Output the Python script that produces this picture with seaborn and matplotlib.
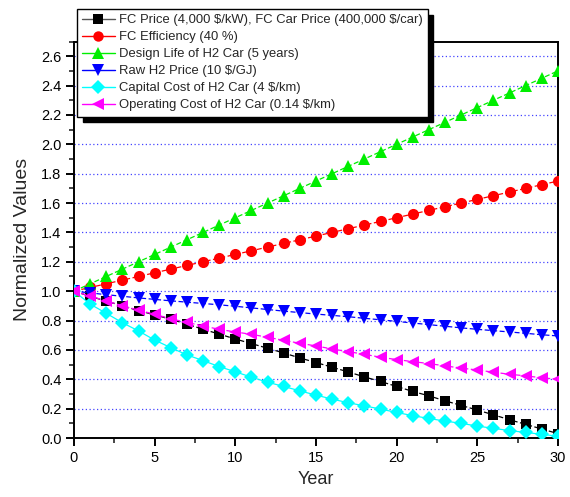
import matplotlib
matplotlib.use("Agg")
import matplotlib.pyplot as plt
import seaborn as sns
import pandas as pd
import numpy as np
from matplotlib.lines import Line2D
from matplotlib.ticker import MultipleLocator, FormatStrFormatter

years = list(range(0, 31))

fc_price = [1.0, 0.965, 0.932, 0.900, 0.867, 0.839, 0.808, 0.776, 0.740, 0.708, 0.674,
            0.643, 0.611, 0.579, 0.545, 0.514, 0.482, 0.450, 0.416, 0.385, 0.351,
            0.317, 0.287, 0.253, 0.222, 0.190, 0.158, 0.124, 0.093, 0.061, 0.030]
fc_eff = [1.0, 1.025, 1.05, 1.075, 1.10, 1.125, 1.15, 1.175, 1.20, 1.225, 1.25,
          1.275, 1.30, 1.325, 1.35, 1.375, 1.40, 1.425, 1.45, 1.475, 1.50,
          1.525, 1.55, 1.575, 1.60, 1.625, 1.65, 1.675, 1.70, 1.725, 1.75]
design_life = [1.0, 1.05, 1.10, 1.15, 1.20, 1.25, 1.30, 1.35, 1.40, 1.45, 1.50,
               1.55, 1.60, 1.65, 1.70, 1.75, 1.80, 1.85, 1.90, 1.95, 2.00,
               2.05, 2.10, 2.15, 2.20, 2.25, 2.30, 2.35, 2.40, 2.45, 2.50]
raw_h2 = [1.0, 0.988, 0.976, 0.965, 0.954, 0.944, 0.934, 0.925, 0.916, 0.907, 0.897,
          0.886, 0.875, 0.864, 0.854, 0.844, 0.835, 0.826, 0.815, 0.805, 0.794,
          0.783, 0.772, 0.761, 0.750, 0.740, 0.731, 0.722, 0.713, 0.703, 0.695]
capital_cost = [1.0, 0.912, 0.849, 0.785, 0.729, 0.667, 0.615, 0.566, 0.527, 0.486, 0.451,
                0.414, 0.380, 0.351, 0.321, 0.292, 0.265, 0.240, 0.219, 0.197, 0.174,
                0.152, 0.133, 0.115, 0.100, 0.081, 0.066, 0.050, 0.038, 0.025, 0.012]
operating_cost = [1.0, 0.966, 0.934, 0.900, 0.871, 0.842, 0.812, 0.787, 0.763, 0.740, 0.722,
                  0.706, 0.686, 0.665, 0.645, 0.627, 0.606, 0.588, 0.570, 0.550, 0.534,
                  0.520, 0.507, 0.491, 0.476, 0.463, 0.448, 0.434, 0.423, 0.410, 0.400]

labels = ["FC Price (4,000 $/kW), FC Car Price (400,000 $/car)",
          "FC Efficiency (40 %)",
          "Design Life of H2 Car (5 years)",
          "Raw H2 Price (10 $/GJ)",
          "Capital Cost of H2 Car (4 $/km)",
          "Operating Cost of H2 Car (0.14 $/km)"]
series = [fc_price, fc_eff, design_life, raw_h2, capital_cost, operating_cost]
colors = ["#000000", "#ff0000", "#00ee00", "#0000ff", "#00ffff", "#ff00ff"]
legend_line_colors = ["#555555", "#ff0000", "#00ee00", "#0000ff", "#00ffff", "#ff00ff"]
markers = ["s", "o", "^", "v", "D", "<"]
msizes = [7, 8, 8.5, 8.5, 7.5, 8.5]
dashes = [(4, 2), (4, 2), (4, 2), (4, 2), "", (4, 2)]

df = pd.DataFrame({"Year": years * len(series),
                   "Value": sum(series, []),
                   "Series": sum([[l] * len(years) for l in labels], [])})

sns.set_theme(style="ticks")
plt.rcParams["font.family"] = ["Liberation Sans", "DejaVu Sans"]
plt.rcParams["text.parse_math"] = False

fig = plt.figure(figsize=(5.70, 4.97), dpi=100)
ax = fig.add_axes([74 / 570, 1 - 438 / 497, (558 - 74) / 570, (438 - 41.5) / 497])

for i, lab in enumerate(labels):
    sub = df[df["Series"] == lab]
    sns.lineplot(data=sub, x="Year", y="Value", ax=ax, color=colors[i],
                 marker=markers[i], markersize=msizes[i], markeredgewidth=0,
                 linewidth=0.9, legend=False, zorder=3 + i)
    ln = ax.lines[-1]
    if dashes[i]:
        ln.set_dashes(dashes[i])

ax.set_xlim(0, 30)
ax.set_ylim(0, 2.7)
ax.xaxis.set_major_locator(MultipleLocator(5))
ax.xaxis.set_minor_locator(MultipleLocator(2.5))
ax.yaxis.set_major_locator(MultipleLocator(0.2))
ax.yaxis.set_minor_locator(MultipleLocator(0.1))
ax.yaxis.set_major_formatter(FormatStrFormatter("%.1f"))

for yv in np.arange(0.2, 2.61, 0.2):
    ax.axhline(yv, color="#4444ff", linestyle=(0, (1, 2)), linewidth=0.9, zorder=1)

for s in ax.spines.values():
    s.set_linewidth(1.4)
    s.set_color("black")
ax.tick_params(axis="both", which="major", direction="out", length=6, width=1.4,
               labelsize=10.5, colors="black", pad=3)
ax.tick_params(axis="both", which="minor", direction="out", length=3.5, width=1.2)
ax.tick_params(top=False, right=False, which="both")

ax.set_xlabel("Year", fontsize=13, labelpad=5)
ax.set_ylabel("Normalized Values", fontsize=14, labelpad=7)

handles = [Line2D([0], [0], color=legend_line_colors[i], marker=markers[i],
                  markersize=msizes[i] - 0.5, markeredgewidth=0, markerfacecolor=colors[i],
                  linewidth=1.0) for i in range(len(labels))]
leg = fig.legend(handles, labels, loc="upper left",
                 bbox_to_anchor=(77 / 570, 1 - 9 / 497), borderaxespad=0,
                 fontsize=9.35, frameon=True, fancybox=False, labelspacing=0.38,
                 handlelength=2.5, handletextpad=0.3, borderpad=0.4,
                 shadow={"ox": 4, "oy": -4, "facecolor": "black", "edgecolor": "black", "alpha": 1})
leg.get_frame().set_edgecolor("black")
leg.get_frame().set_linewidth(1.0)
leg.get_frame().set_alpha(1)
leg.set_zorder(10)

fig.savefig("out.png", dpi=100)
